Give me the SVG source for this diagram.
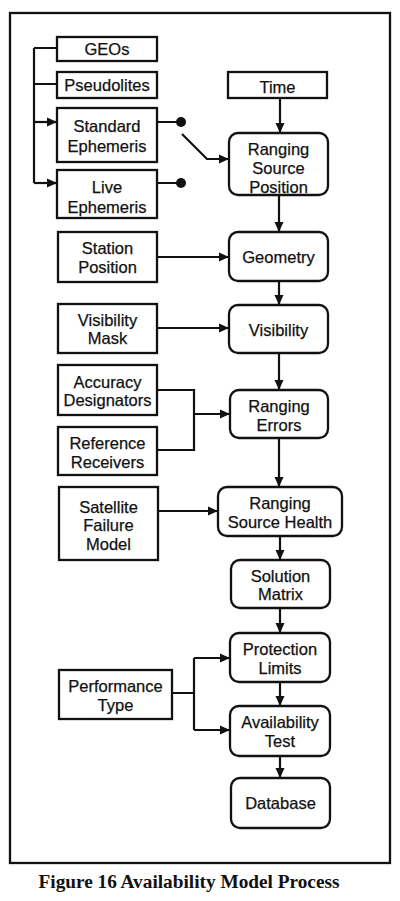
<svg xmlns="http://www.w3.org/2000/svg" width="400" height="901" viewBox="0 0 400 901">
<defs>
<marker id="ah" viewBox="0 0 10 10" refX="10" refY="5" markerWidth="10" markerHeight="10" markerUnits="userSpaceOnUse" orient="auto">
<path d="M0,0.5 L10,5 L0,9.5 Z" fill="#111"/>
</marker>
<style>
.b{fill:#fff;stroke:#111;stroke-width:2.3}
.t{font-family:"Liberation Sans",Arial,sans-serif;font-size:16.5px;fill:#111;stroke:#111;stroke-width:0.25;text-anchor:middle}
.c{fill:none;stroke:#111;stroke-width:2.2}
.a{fill:none;stroke:#111;stroke-width:2.2;marker-end:url(#ah)}
.cap{font-family:"Liberation Serif","Times New Roman",serif;font-weight:bold;font-size:19.3px;fill:#111;text-anchor:middle}
</style>
</defs>
<rect x="0" y="0" width="400" height="901" fill="#fff"/>
<rect x="10" y="13" width="380" height="850" fill="none" stroke="#111" stroke-width="2.3"/>
<g id="connectors">
<path class="c" d="M34,48 V183 M34,48 H57 M34,84 H57"/>
<path class="a" d="M34,122 H57"/>
<path class="a" d="M34,183 H57"/>
<path class="c" d="M157,122 H181 M157,183 H181"/>
<circle cx="181" cy="122" r="5" fill="#111"/>
<circle cx="181" cy="183" r="5" fill="#111"/>
<path class="a" d="M182,134 L207,159 H229"/>
<path class="a" d="M280,98 V133"/>
<path class="a" d="M279,195 V232"/>
<path class="a" d="M157,257 H229"/>
<path class="a" d="M279,281 V305"/>
<path class="a" d="M157,328 H229"/>
<path class="a" d="M279,353 V390"/>
<path class="c" d="M157,390 H194 V450 H157"/>
<path class="a" d="M194,414 H230"/>
<path class="a" d="M279,438 V487"/>
<path class="a" d="M158,511 H218"/>
<path class="a" d="M280,536 V560"/>
<path class="a" d="M280,608 V633"/>
<path class="c" d="M172,693 H194 M194,658 V730"/>
<path class="a" d="M194,658 H230"/>
<path class="a" d="M194,730 H230"/>
<path class="a" d="M280,682 V706"/>
<path class="a" d="M280,756 V778"/>
</g>
<g id="geos"><rect class="b" x="57" y="37" width="100" height="24"/><text class="t" x="107" y="55">GEOs</text></g>
<g id="pseudolites"><rect class="b" x="57" y="72" width="100" height="26"/><text class="t" x="107" y="91">Pseudolites</text></g>
<g id="standard-ephemeris"><rect class="b" x="57" y="108" width="100" height="54"/><text class="t" x="107" y="132">Standard</text><text class="t" x="107" y="152">Ephemeris</text></g>
<g id="live-ephemeris"><rect class="b" x="57" y="170" width="100" height="48"/><text class="t" x="107" y="193">Live</text><text class="t" x="107" y="213">Ephemeris</text></g>
<g id="time"><rect class="b" x="228" y="72" width="99" height="26"/><text class="t" x="277.5" y="93">Time</text></g>
<g id="ranging-source-position"><rect class="b" x="229" y="133" width="99" height="62" rx="9"/><text class="t" x="278.5" y="155">Ranging</text><text class="t" x="278.5" y="174">Source</text><text class="t" x="278.5" y="193">Position</text></g>
<g id="station-position"><rect class="b" x="58" y="232" width="99" height="50"/><text class="t" x="107.5" y="254">Station</text><text class="t" x="107.5" y="273">Position</text></g>
<g id="geometry"><rect class="b" x="229" y="232" width="99" height="49" rx="9"/><text class="t" x="278.5" y="263">Geometry</text></g>
<g id="visibility-mask"><rect class="b" x="58" y="304" width="99" height="49"/><text class="t" x="107.5" y="326">Visibility</text><text class="t" x="107.5" y="344">Mask</text></g>
<g id="visibility"><rect class="b" x="229" y="305" width="99" height="48" rx="9"/><text class="t" x="278.5" y="336">Visibility</text></g>
<g id="accuracy-designators"><rect class="b" x="58" y="365" width="99" height="50"/><text class="t" x="107.5" y="388">Accuracy</text><text class="t" x="107.5" y="406">Designators</text></g>
<g id="ranging-errors"><rect class="b" x="230" y="390" width="98" height="48" rx="9"/><text class="t" x="279" y="412">Ranging</text><text class="t" x="279" y="431">Errors</text></g>
<g id="reference-receivers"><rect class="b" x="58" y="427" width="99" height="48"/><text class="t" x="107.5" y="449">Reference</text><text class="t" x="107.5" y="468">Receivers</text></g>
<g id="satellite-failure-model"><rect class="b" x="59" y="487" width="99" height="73"/><text class="t" x="108.5" y="513">Satellite</text><text class="t" x="108.5" y="531">Failure</text><text class="t" x="108.5" y="550">Model</text></g>
<g id="ranging-source-health"><rect class="b" x="218" y="487" width="124" height="49" rx="9"/><text class="t" x="280" y="509">Ranging</text><text class="t" x="280" y="528">Source Health</text></g>
<g id="solution-matrix"><rect class="b" x="231" y="560" width="99" height="48" rx="9"/><text class="t" x="280.5" y="582">Solution</text><text class="t" x="280.5" y="600">Matrix</text></g>
<g id="protection-limits"><rect class="b" x="230" y="633" width="100" height="49" rx="9"/><text class="t" x="280" y="655">Protection</text><text class="t" x="280" y="674">Limits</text></g>
<g id="performance-type"><rect class="b" x="59" y="670" width="113" height="49"/><text class="t" x="115.5" y="692">Performance</text><text class="t" x="115.5" y="711">Type</text></g>
<g id="availability-test"><rect class="b" x="230" y="706" width="100" height="50" rx="9"/><text class="t" x="280" y="728">Availability</text><text class="t" x="280" y="747">Test</text></g>
<g id="database"><rect class="b" x="231" y="778" width="99" height="50" rx="9"/><text class="t" x="280.5" y="809">Database</text></g>
<text class="cap" x="189" y="888">Figure 16 Availability Model Process</text>
</svg>
